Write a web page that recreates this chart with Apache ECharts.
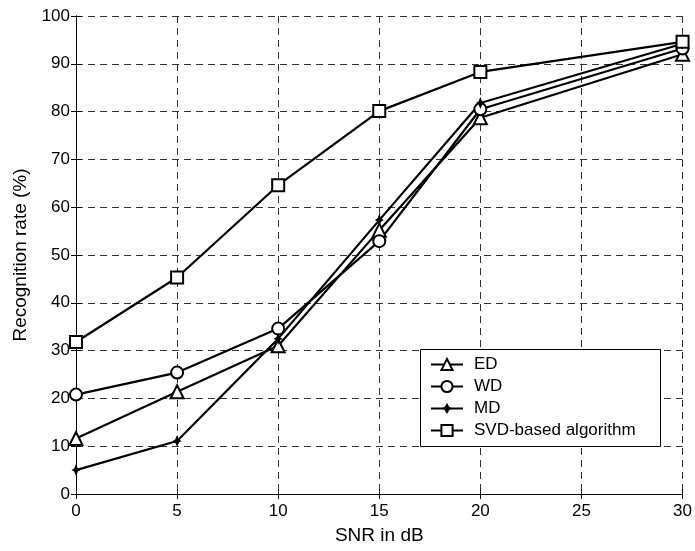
<!DOCTYPE html>
<html>
<head>
<meta charset="utf-8">
<script src="https://cdn.jsdelivr.net/npm/echarts@6/dist/echarts.min.js"></script>
<style>html,body{margin:0;padding:0;background:#fff}#c{width:695px;height:551px}</style>
</head>
<body>
<div id="c"></div>
<script>
const snr = [0, 5, 10, 15, 20, 30];
const edValues = [11.6, 21.4, 31, 55.2, 78.7, 92];
const wdValues = [20.8, 25.4, 34.6, 52.9, 80.5, 93.2];
const mdValues = [5.0, 11.1, 32.5, 57.3, 81.8, 94.2];
const svdValues = [31.8, 45.3, 64.6, 80.1, 88.3, 94.6];
const seriesNames = ['ED', 'WD', 'MD', 'SVD-based algorithm'];
const xTicks = [0, 5, 10, 15, 20, 25, 30];
const yTicks = [0, 10, 20, 30, 40, 50, 60, 70, 80, 90, 100];

const FONT = '"Liberation Sans", Arial, sans-serif';
const starPath = 'path://M0,-12 L2.5,-3 L6,0 L2.5,3 L0,12 L-2.5,3 L-6,0 L-2.5,-3 Z';

function pairs(vals) { return snr.map((x, i) => [x, vals[i]]); }

function mk(name, vals, symbol, size, filled) {
  return {
    name: name, type: 'line', data: pairs(vals),
    symbol: symbol, symbolSize: size,
    showAllSymbol: true,
    lineStyle: { color: '#000', width: 2.2 },
    itemStyle: { color: filled ? '#000' : '#fff', borderColor: '#000', borderWidth: filled ? 0 : 2 },
    emphasis: { disabled: true },
    animation: false, z: 3
  };
}

const chart = echarts.init(document.getElementById('c'), null, { renderer: 'canvas' });
const gridLine = { show: true, lineStyle: { color: '#333', type: [7, 5], width: 1 } };
chart.setOption({
  animation: false,
  grid: { left: 76, right: 9, top: 16, bottom: 57, containLabel: false },
  xAxis: [{
    type: 'value', min: xTicks[0], max: xTicks[xTicks.length - 1], interval: 5,
    name: 'SNR in dB', nameLocation: 'middle', nameGap: 32,
    nameTextStyle: { fontFamily: FONT, fontSize: 19, color: '#000' },
    axisLine: { lineStyle: { color: '#000', width: 1 } },
    axisTick: { inside: true, length: 5, lineStyle: { color: '#000' } },
    axisLabel: { fontFamily: FONT, fontSize: 17, color: '#000', margin: 9 },
    splitLine: gridLine
  }, {
    type: 'value', position: 'top', min: 0, max: 30, interval: 5,
    axisLine: { show: true, lineStyle: { color: '#000', width: 1 } },
    axisTick: { show: true, inside: true, length: 5, lineStyle: { color: '#000' } },
    axisLabel: { show: false }, splitLine: { show: false }
  }],
  yAxis: [{
    type: 'value', min: yTicks[0], max: yTicks[yTicks.length - 1], interval: 10,
    name: 'Recognition rate (%)', nameLocation: 'middle', nameGap: 42, nameRotate: 90,
    nameTextStyle: { fontFamily: FONT, fontSize: 19, color: '#000' },
    axisLine: { show: true, lineStyle: { color: '#000', width: 1 } },
    axisTick: { show: true, inside: true, length: 5, lineStyle: { color: '#000' } },
    axisLabel: { fontFamily: FONT, fontSize: 17, color: '#000', margin: 6 },
    splitLine: gridLine
  }, {
    type: 'value', position: 'right', min: 0, max: 100, interval: 10,
    axisLine: { show: true, lineStyle: { color: '#000', width: 1 } },
    axisTick: { show: true, inside: true, length: 5, lineStyle: { color: '#000' } },
    axisLabel: { show: false }, splitLine: { show: false }
  }],
  legend: {
    orient: 'vertical', left: 430, top: 356, z: 10,
    itemWidth: 32, itemHeight: 14, itemGap: 5, padding: 0,
    selectedMode: false,
    textStyle: { fontFamily: FONT, fontSize: 17, color: '#000', padding: [0, 0, 0, 6] },
    data: seriesNames
  },
  graphic: [{
    type: 'rect', z: 9, shape: { x: 420.5, y: 349.5, width: 240, height: 97 },
    style: { fill: '#fff', stroke: '#000', lineWidth: 1 }
  }],
  series: [
    mk(seriesNames[0], edValues, 'triangle', 13, false),
    mk(seriesNames[1], wdValues, 'circle', 12, false),
    mk(seriesNames[2], mdValues, starPath, [9, 12], true),
    mk(seriesNames[3], svdValues, 'rect', 12, false)
  ]
});
</script>
</body>
</html>
